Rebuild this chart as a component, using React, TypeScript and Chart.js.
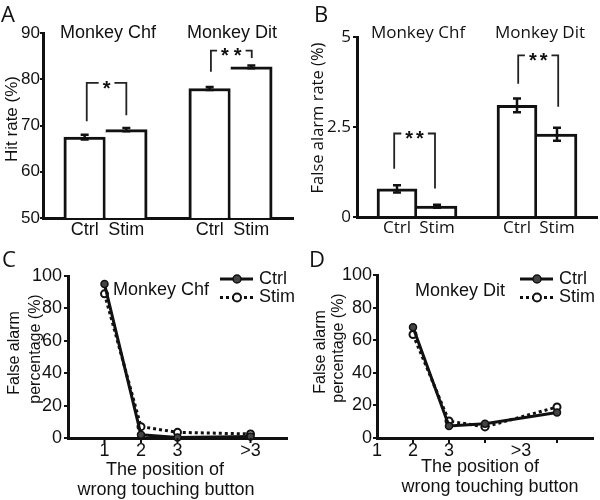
import React, { useEffect, useRef } from "react";
import { Chart, registerables } from "chart.js";
Chart.register(...registerables);

// ---------------- DATA ----------------
const monkeys = ["Monkey Chf", "Monkey Dit"];
const barCategories = ["Ctrl", "Stim", "Ctrl", "Stim"];
const barSlots = [1, 2, 4, 5];

// Panel A: hit rate (%)
const hitRate = [67.5, 69.1, 78.0, 82.7];
const hitRateErr = [0.5, 0.35, 0.3, 0.3];
const sigA = ["*", "**"];

// Panel B: false alarm rate (%)
const falseAlarmRate = [0.78, 0.3, 3.1, 2.3];
const falseAlarmErr = [0.1, 0.04, 0.19, 0.18];
const sigB = ["**", "**"];

// Panels C / D: false alarm percentage by position
const seriesNames = ["Ctrl", "Stim"];
const positionTickValues = [1, 2, 3, 5];
const positionTickLabels = ["1", "2", "3", ">3"];
const chfPositions = [1, 2, 3, 5];
const chfCtrl = [95, 2, 0.3, 1];
const chfStim = [89, 7, 3.5, 2.5];
const ditPositions = [2, 3, 4, 6];
const ditCtrl = [68, 7.4, 8.8, 15.6];
const ditStim = [63.5, 10.4, 6.8, 19];

// Significance brackets (data units)
type Bracket = { from: number; to: number; top: number; leftEnd: number; rightEnd: number };
const bracketsA: Bracket[] = [
  { from: 1.05, to: 2.0, top: 79.2, leftEnd: 70.9, rightEnd: 72.2 },
  { from: 4.03, to: 5.01, top: 86.2, leftEnd: 81.6, rightEnd: 84.6 },
];
const bracketsB: Bracket[] = [
  { from: 0.93, to: 1.95, top: 2.32, leftEnd: 1.34, rightEnd: 0.79 },
  { from: 4.03, to: 5.03, top: 4.49, leftEnd: 3.7, rightEnd: 3.06 },
];

// ---------------- STYLE ----------------
const ARIAL = "'Liberation Sans', Arial, sans-serif";
const OPEN = "'Open Sans', sans-serif";
const INK = "#111";

type Area = { left: number; top: number; right: number; bottom: number };

function txt(ctx: CanvasRenderingContext2D, s: string, x: number, y: number, font: string, align: CanvasTextAlign = "center") {
  ctx.save();
  ctx.font = font;
  ctx.fillStyle = INK;
  ctx.textAlign = align;
  ctx.textBaseline = "alphabetic";
  ctx.fillText(s, x, y);
  ctx.restore();
}
function rtxt(ctx: CanvasRenderingContext2D, s: string, x: number, y: number, font: string) {
  ctx.save();
  ctx.translate(x, y);
  ctx.rotate(-Math.PI / 2);
  ctx.font = font;
  ctx.fillStyle = INK;
  ctx.textAlign = "center";
  ctx.textBaseline = "alphabetic";
  ctx.fillText(s, 0, 0);
  ctx.restore();
}

function drawStars(ctx: CanvasRenderingContext2D, label: string, cx: number, cy: number, font: string, size: number, spacing: number) {
  ctx.save();
  ctx.font = font;
  const w = ctx.measureText("*").width;
  const n = label.length;
  const total = n * w + (n - 1) * spacing;
  ctx.fillStyle = INK;
  ctx.textAlign = "center";
  ctx.textBaseline = "alphabetic";
  for (let i = 0; i < n; i++) {
    const x = cx - total / 2 + w / 2 + i * (w + spacing);
    ctx.fillText("*", x, cy + size * 0.58);
  }
  ctx.restore();
  return total;
}

type BarPanel = {
  area: Area; W: number; H: number;
  values: number[]; errors: number[];
  yMin: number; yMax: number; yStep: number;
  brackets: Bracket[]; sig: string[];
  family: string; tickSize: number; catSize: number; titleSize: number; yTitleSize: number;
  letter: string; letterX: number;
  titleXs: number[]; titleY: number;
  yTitle: string; yTitleX: number; yTitleY: number;
  yTickLen: number; yTickPad: number; starSpacing: number;
};

function barConfig(p: BarPanel): any {
  const overlay = {
    id: "overlay",
    afterDatasetsDraw(chart: any) {
      const ctx = chart.ctx as CanvasRenderingContext2D;
      const xs = chart.scales.x, ys = chart.scales.y;
      ctx.save();
      ctx.strokeStyle = INK;
      ctx.lineWidth = 2.5;
      p.values.forEach((v, i) => {
        const x = xs.getPixelForValue(barSlots[i]);
        const y1 = ys.getPixelForValue(v + p.errors[i]);
        const y2 = ys.getPixelForValue(v - p.errors[i]);
        ctx.beginPath();
        ctx.moveTo(x, y1); ctx.lineTo(x, y2);
        ctx.moveTo(x - 4, y1); ctx.lineTo(x + 4, y1);
        ctx.moveTo(x - 4, y2); ctx.lineTo(x + 4, y2);
        ctx.stroke();
      });
      ctx.restore();
      const starFont = `bold 20px ${ARIAL}`;
      p.brackets.forEach((b, i) => {
        const x1 = xs.getPixelForValue(b.from), x2 = xs.getPixelForValue(b.to);
        const yt = ys.getPixelForValue(b.top);
        const yl = ys.getPixelForValue(b.leftEnd), yr = ys.getPixelForValue(b.rightEnd);
        const cx = (x1 + x2) / 2;
        const w = drawStars(ctx, p.sig[i], cx, yt, starFont, 20, p.starSpacing);
        const g = w / 2 + 4;
        ctx.save();
        ctx.strokeStyle = "#222";
        ctx.lineWidth = 1.8;
        ctx.beginPath();
        ctx.moveTo(x1, yl); ctx.lineTo(x1, yt); ctx.lineTo(cx - g, yt);
        ctx.moveTo(cx + g, yt); ctx.lineTo(x2, yt); ctx.lineTo(x2, yr);
        ctx.stroke();
        ctx.restore();
      });
    },
    afterDraw(chart: any) {
      const ctx = chart.ctx as CanvasRenderingContext2D;
      txt(ctx, p.letter, p.letterX, 22, `22px ${OPEN}`, "left");
      monkeys.forEach((m, i) => txt(ctx, m, p.titleXs[i], p.titleY, `${p.titleSize}px ${p.family}`));
      rtxt(ctx, p.yTitle, p.yTitleX, p.yTitleY, `${p.yTitleSize}px ${p.family}`);
    },
  };
  return {
    type: "bar",
    data: {
      datasets: [{
        data: barSlots.map((s, i) => ({ x: s, y: p.values[i] })),
        backgroundColor: "white",
        borderColor: INK,
        borderWidth: (c: any) => ({ top: 3, right: 3, bottom: 0, left: c.dataIndex % 2 === 0 ? 3 : 0 }),
        borderSkipped: false,
        barPercentage: 1,
        categoryPercentage: 1,
      }],
    },
    options: {
      responsive: false,
      animation: false,
      events: [],
      layout: { padding: { top: p.area.top, right: p.W - p.area.right, bottom: 0, left: 0 } },
      plugins: { legend: { display: false }, tooltip: { enabled: false } },
      scales: {
        x: {
          type: "linear", min: 0, max: 6, offset: false,
          afterBuildTicks: (s: any) => { s.ticks = barSlots.map((v) => ({ value: v })); },
          afterFit: (s: any) => { s.height = p.H - p.area.bottom; },
          ticks: {
            autoSkip: false, maxRotation: 0, padding: 1, color: INK,
            font: { family: p.family, size: p.catSize },
            callback: (v: any) => { const i = barSlots.indexOf(v); return i >= 0 ? barCategories[i] : ""; },
          },
          grid: { display: false, drawTicks: false, offset: false },
          border: { display: true, color: INK, width: 3 },
        },
        y: {
          min: p.yMin, max: p.yMax,
          afterFit: (s: any) => { s.width = p.area.left; },
          ticks: { stepSize: p.yStep, padding: p.yTickPad, color: INK, font: { family: p.family, size: p.tickSize } },
          grid: { drawOnChartArea: false, drawTicks: true, tickLength: p.yTickLen, color: INK, lineWidth: 2 },
          border: { display: true, color: INK, width: 3 },
        },
      },
    },
    plugins: [overlay],
  };
}

type LinePanel = {
  area: Area; W: number; H: number;
  positions: number[]; ctrl: number[]; stim: number[];
  xMin: number; xMax: number;
  letter: string; letterX: number;
  title: string; titleX: number; titleY: number;
  yTitleLines: string[]; yTitleXs: number[]; yTitleYs: number[];
  xTitleLines: string[]; xTitleXs: number[]; xTitleYs: number[];
  yTickPad: number;
};

function lineConfig(p: LinePanel): any {
  const overlay = {
    id: "overlay",
    afterDraw(chart: any) {
      const ctx = chart.ctx as CanvasRenderingContext2D;
      const xs = chart.scales.x;
      const base = chart.chartArea.bottom;
      ctx.save();
      ctx.strokeStyle = INK;
      ctx.lineWidth = 2;
      p.positions.forEach((v) => {
        const x = xs.getPixelForValue(v);
        ctx.beginPath(); ctx.moveTo(x, base); ctx.lineTo(x, base + 5); ctx.stroke();
      });
      ctx.restore();
      const f = `18px ${ARIAL}`;
      txt(ctx, p.letter, p.letterX, 22, `22px ${OPEN}`, "left");
      txt(ctx, p.title, p.titleX, p.titleY, f);
      p.yTitleLines.forEach((s, i) => rtxt(ctx, s, p.yTitleXs[i], p.yTitleYs[i], `16px ${ARIAL}`));
      p.xTitleLines.forEach((s, i) => txt(ctx, s, p.xTitleXs[i], p.xTitleYs[i], f));
      // legend
      const legY = [34, 52.5];
      chart.data.datasets.forEach((ds: any, i: number) => {
        const y = legY[i];
        ctx.save();
        ctx.strokeStyle = INK;
        ctx.lineWidth = 3;
        ctx.setLineDash(ds.borderDash || []);
        ctx.beginPath(); ctx.moveTo(220, y); ctx.lineTo(253, y); ctx.stroke();
        ctx.setLineDash([]);
        ctx.beginPath(); ctx.arc(237, y, 4, 0, Math.PI * 2);
        ctx.fillStyle = ds.pointBackgroundColor; ctx.fill();
        ctx.lineWidth = ds.pointBorderWidth; ctx.stroke();
        ctx.restore();
        txt(ctx, ds.label, 259, y + 4.5, f, "left");
      });
    },
  };
  const mk = (vals: number[]) => p.positions.map((x, i) => ({ x, y: vals[i] }));
  return {
    type: "line",
    data: {
      datasets: [
        { label: seriesNames[0], data: mk(p.ctrl), borderColor: INK, borderWidth: 3, pointRadius: 3.5,
          pointBackgroundColor: "#444", pointBorderColor: INK, pointBorderWidth: 1.5, clip: false, borderDash: [] },
        { label: seriesNames[1], data: mk(p.stim), borderColor: INK, borderWidth: 3, pointRadius: 3.5,
          pointBackgroundColor: "white", pointBorderColor: INK, pointBorderWidth: 2, clip: false, borderDash: [3, 3] },
      ],
    },
    options: {
      responsive: false,
      animation: false,
      events: [],
      layout: { padding: { top: p.area.top, right: p.W - p.area.right, bottom: 0, left: 0 } },
      plugins: { legend: { display: false }, tooltip: { enabled: false } },
      scales: {
        x: {
          type: "linear", min: p.xMin, max: p.xMax,
          afterBuildTicks: (s: any) => { s.ticks = positionTickValues.map((v) => ({ value: v })); },
          afterFit: (s: any) => { s.height = p.H - p.area.bottom; },
          ticks: {
            autoSkip: false, maxRotation: 0, padding: 2, color: INK,
            font: { family: ARIAL, size: 18 },
            callback: (v: any) => { const i = positionTickValues.indexOf(v); return i >= 0 ? positionTickLabels[i] : ""; },
          },
          grid: { display: false, drawTicks: false },
          border: { display: true, color: INK, width: 3 },
        },
        y: {
          min: 0, max: 100,
          afterFit: (s: any) => { s.width = p.area.left; },
          ticks: { stepSize: 20, padding: p.yTickPad, color: INK, font: { family: ARIAL, size: 18 } },
          grid: { drawOnChartArea: false, drawTicks: true, tickLength: 4, color: INK, lineWidth: 2 },
          border: { display: true, color: INK, width: 3 },
        },
      },
    },
    plugins: [overlay],
  };
}

function ChartBox({ x, y, w, h, config }: { x: number; y: number; w: number; h: number; config: () => any }) {
  const ref = useRef<HTMLCanvasElement>(null);
  useEffect(() => {
    const c = new Chart(ref.current as HTMLCanvasElement, config());
    return () => c.destroy();
  }, []);
  return <canvas ref={ref} width={w} height={h} style={{ position: "absolute", left: x, top: y, width: w, height: h }} />;
}

export default function App() {
  const cfgA = () => barConfig({
    area: { left: 43, top: 33, right: 293, bottom: 218 }, W: 300, H: 245,
    values: hitRate, errors: hitRateErr, yMin: 50, yMax: 90, yStep: 10,
    brackets: bracketsA, sig: sigA,
    family: ARIAL, tickSize: 17, catSize: 18, titleSize: 18, yTitleSize: 17,
    letter: "A", letterX: 1, titleXs: [108, 232], titleY: 37.5,
    yTitle: "Hit rate (%)", yTitleX: 17, yTitleY: 119, yTickLen: 3, yTickPad: 0, starSpacing: 5,
  });
  const cfgB = () => barConfig({
    area: { left: 57, top: 37, right: 297, bottom: 217 }, W: 300, H: 245,
    values: falseAlarmRate, errors: falseAlarmErr, yMin: 0, yMax: 5, yStep: 2.5,
    brackets: bracketsB, sig: sigB,
    family: OPEN, tickSize: 17, catSize: 17, titleSize: 17, yTitleSize: 16.5,
    letter: "B", letterX: 14, titleXs: [118, 240], titleY: 37.5,
    yTitle: "False alarm rate (%)", yTitleX: 23, yTitleY: 118, yTickLen: 4, yTickPad: 2, starSpacing: 3,
  });
  const cfgC = () => lineConfig({
    area: { left: 68, top: 31, right: 287, bottom: 193 }, W: 300, H: 255,
    positions: chfPositions, ctrl: chfCtrl, stim: chfStim, xMin: 0, xMax: 6,
    letter: "C", letterX: 2, title: "Monkey Chf", titleX: 161, titleY: 50,
    yTitleLines: ["False alarm", "percentage (%)"], yTitleXs: [19, 40], yTitleYs: [108, 104],
    xTitleLines: ["The position of", "wrong touching button"], xTitleXs: [165, 166], xTitleYs: [230, 250],
    yTickPad: 2,
  });
  const cfgD = () => lineConfig({
    area: { left: 77, top: 30, right: 293, bottom: 193 }, W: 300, H: 255,
    positions: ditPositions, ctrl: ditCtrl, stim: ditStim, xMin: 1, xMax: 7,
    letter: "D", letterX: 9, title: "Monkey Dit", titleX: 160, titleY: 50.5,
    yTitleLines: ["False alarm", "percentage (%)"], yTitleXs: [25, 43], yTitleYs: [107, 103],
    xTitleLines: ["The position of", "wrong touching button"], xTitleXs: [180, 190], xTitleYs: [227, 247],
    yTickPad: 1,
  });
  return (
    <div style={{ position: "fixed", left: 0, top: 0, width: 600, height: 500, background: "white" }}>
      <ChartBox x={0} y={0} w={300} h={245} config={cfgA} />
      <ChartBox x={300} y={0} w={300} h={245} config={cfgB} />
      <ChartBox x={0} y={245} w={300} h={255} config={cfgC} />
      <ChartBox x={300} y={245} w={300} h={255} config={cfgD} />
    </div>
  );
}
